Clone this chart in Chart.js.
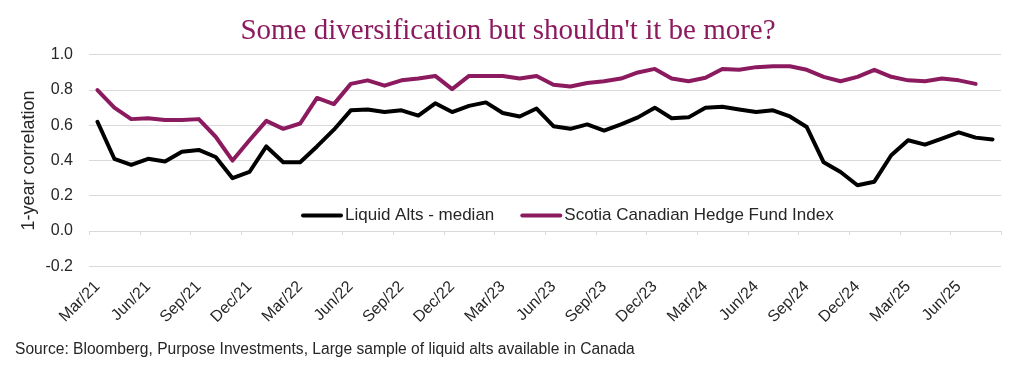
<!DOCTYPE html>
<html>
<head>
<meta charset="utf-8">
<script src="https://cdn.jsdelivr.net/npm/chart.js@4/dist/chart.umd.min.js"></script>
<style>
    html, body { margin: 0; padding: 0; background: #fff; }
    #wrap { width: 1024px; height: 366px; }
</style>
</head>
<body>
<div id="wrap"><canvas id="corrChart" width="1024" height="366"></canvas></div>
<script>
const months = [
    'Mar/21', 'Apr/21', 'May/21', 'Jun/21', 'Jul/21', 'Aug/21', 'Sep/21', 'Oct/21', 'Nov/21', 'Dec/21',
    'Jan/22', 'Feb/22', 'Mar/22', 'Apr/22', 'May/22', 'Jun/22', 'Jul/22', 'Aug/22', 'Sep/22', 'Oct/22', 'Nov/22', 'Dec/22',
    'Jan/23', 'Feb/23', 'Mar/23', 'Apr/23', 'May/23', 'Jun/23', 'Jul/23', 'Aug/23', 'Sep/23', 'Oct/23', 'Nov/23', 'Dec/23',
    'Jan/24', 'Feb/24', 'Mar/24', 'Apr/24', 'May/24', 'Jun/24', 'Jul/24', 'Aug/24', 'Sep/24', 'Oct/24', 'Nov/24', 'Dec/24',
    'Jan/25', 'Feb/25', 'Mar/25', 'Apr/25', 'May/25', 'Jun/25', 'Jul/25', 'Aug/25'
];

// only every third month gets a label
const shownTicks = [
    'Mar/21', 'Jun/21', 'Sep/21', 'Dec/21', 'Mar/22', 'Jun/22', 'Sep/22', 'Dec/22', 'Mar/23',
    'Jun/23', 'Sep/23', 'Dec/23', 'Mar/24', 'Jun/24', 'Sep/24', 'Dec/24', 'Mar/25', 'Jun/25'
];

const liquidAlts = [
    0.62, 0.41, 0.375, 0.41, 0.395, 0.45, 0.46, 0.42, 0.30, 0.335,
    0.48, 0.39, 0.39, 0.48, 0.575, 0.685, 0.69, 0.675, 0.685, 0.655, 0.725, 0.675,
    0.71, 0.73, 0.67, 0.65, 0.695, 0.595, 0.58, 0.605, 0.57, 0.605, 0.645, 0.70,
    0.64, 0.645, 0.70, 0.705, 0.69, 0.675, 0.685, 0.65, 0.59, 0.39, 0.335, 0.26,
    0.28, 0.43, 0.515, 0.49, 0.525, 0.56, 0.53, 0.52
];

const scotiaHedge = [
    0.80, 0.70, 0.635, 0.64, 0.63, 0.63, 0.635, 0.535, 0.40, 0.515,
    0.625, 0.58, 0.61, 0.755, 0.72, 0.835, 0.855, 0.825, 0.855, 0.865, 0.88, 0.805,
    0.88, 0.88, 0.88, 0.865, 0.88, 0.83, 0.82, 0.84, 0.85, 0.865, 0.90, 0.92,
    0.865, 0.85, 0.87, 0.92, 0.915, 0.93, 0.935, 0.935, 0.915, 0.875, 0.85, 0.875,
    0.915, 0.875, 0.855, 0.85, 0.865, 0.855, 0.835
];

const yTicks = [-0.2, 0.0, 0.2, 0.4, 0.6, 0.8, 1.0];

const PURPLE = '#8C1A5E';
const TEXT = '#262626';
const GRID = '#D9D9D9';
const SANS = '"Liberation Sans", Arial, sans-serif';

// small tick marks on the zero line, every 3 months (between categories)
const zeroTicks = {
    id: 'zeroTicks',
    afterDatasetsDraw(chart) {
        const x = chart.scales.x, y = chart.scales.y;
        const ctx = chart.ctx;
        const half = (x.getPixelForValue(1) - x.getPixelForValue(0)) / 2;
        const y0 = y.getPixelForValue(0);
        ctx.save();
        ctx.strokeStyle = GRID;
        ctx.lineWidth = 1;
        for (let k = 0; k <= months.length; k += 3) {
            const px = k < months.length ? x.getPixelForValue(k) - half : x.getPixelForValue(k - 1) + half;
            ctx.beginPath();
            ctx.moveTo(Math.round(px) + 0.5, y0);
            ctx.lineTo(Math.round(px) + 0.5, y0 + 4);
            ctx.stroke();
        }
        ctx.restore();
    }
};

// legend sitting inside the plot, between 0.0 and 0.2
const innerLegend = {
    id: 'innerLegend',
    afterDraw(chart) {
        const ctx = chart.ctx;
        const area = chart.chartArea;
        const y = chart.scales.y;
        const cy = (y.getPixelForValue(0) + y.getPixelForValue(0.2)) / 2 + 2;
        let cx = area.left + 214;
        ctx.save();
        ctx.font = '17px ' + SANS;
        ctx.textBaseline = 'middle';
        ctx.textAlign = 'left';
        chart.data.datasets.forEach(ds => {
            ctx.strokeStyle = ds.borderColor;
            ctx.lineWidth = 4;
            ctx.lineCap = 'round';
            ctx.beginPath();
            ctx.moveTo(cx, cy);
            ctx.lineTo(cx + 38, cy);
            ctx.stroke();
            ctx.fillStyle = TEXT;
            ctx.fillText(ds.label, cx + 42, cy);
            cx += 42 + ctx.measureText(ds.label).width + 28;
        });
        ctx.restore();
    }
};

const corrChart = new Chart(document.getElementById('corrChart').getContext('2d'), {
    type: 'line',
    data: {
        labels: months,
        datasets: [{
            label: 'Liquid Alts - median',
            data: liquidAlts,
            borderColor: '#000000',
            borderWidth: 4,
        }, {
            label: 'Scotia Canadian Hedge Fund Index',
            data: scotiaHedge,
            borderColor: PURPLE,
            borderWidth: 4,
        }]
    },
    options: {
        responsive: false,
        animation: false,
        layout: { padding: { left: 15, right: 23, top: 0, bottom: 7 } },
        elements: {
            point: { radius: 0 },
            line: { tension: 0, borderJoinStyle: 'round', borderCapStyle: 'round' }
        },
        plugins: {
            legend: { display: false },
            tooltip: { enabled: false },
            title: {
                display: true,
                text: "Some diversification but shouldn't it be more?",
                color: PURPLE,
                font: { family: '"Liberation Serif", "Times New Roman", serif', size: 29, weight: 'normal' },
                padding: { top: 14, bottom: 6 }
            },
            subtitle: {
                display: true,
                position: 'bottom',
                align: 'start',
                text: 'Source: Bloomberg, Purpose Investments, Large sample of liquid alts available in Canada',
                color: TEXT,
                font: { family: SANS, size: 15.6 },
                padding: { top: 0, bottom: 0 }
            }
        },
        scales: {
            x: {
                offset: true,
                grid: { display: false, drawTicks: false },
                border: { display: false },
                ticks: {
                    autoSkip: false,
                    maxRotation: 45,
                    minRotation: 45,
                    padding: 11,
                    color: TEXT,
                    font: { family: SANS, size: 16 },
                    callback: (val, i) => shownTicks.includes(months[i]) ? months[i] : ''
                },
                afterFit: s => { s.height = 74; }
            },
            y: {
                min: -0.2,
                max: 1.0,
                afterBuildTicks: s => { s.ticks = yTicks.map(v => ({ value: v })); },
                grid: { color: GRID, lineWidth: 1, drawTicks: false },
                border: { display: false },
                ticks: {
                    padding: 16,
                    color: TEXT,
                    font: { family: SANS, size: 16 },
                    callback: v => v.toFixed(1)
                },
                title: {
                    display: true,
                    text: '1-year correlation',
                    color: TEXT,
                    font: { family: SANS, size: 18 },
                    padding: { top: 3, bottom: 0 }
                },
                afterFit: s => { s.width = 74; }
            }
        }
    },
    plugins: [zeroTicks, innerLegend]
});
</script>
</body>
</html>
